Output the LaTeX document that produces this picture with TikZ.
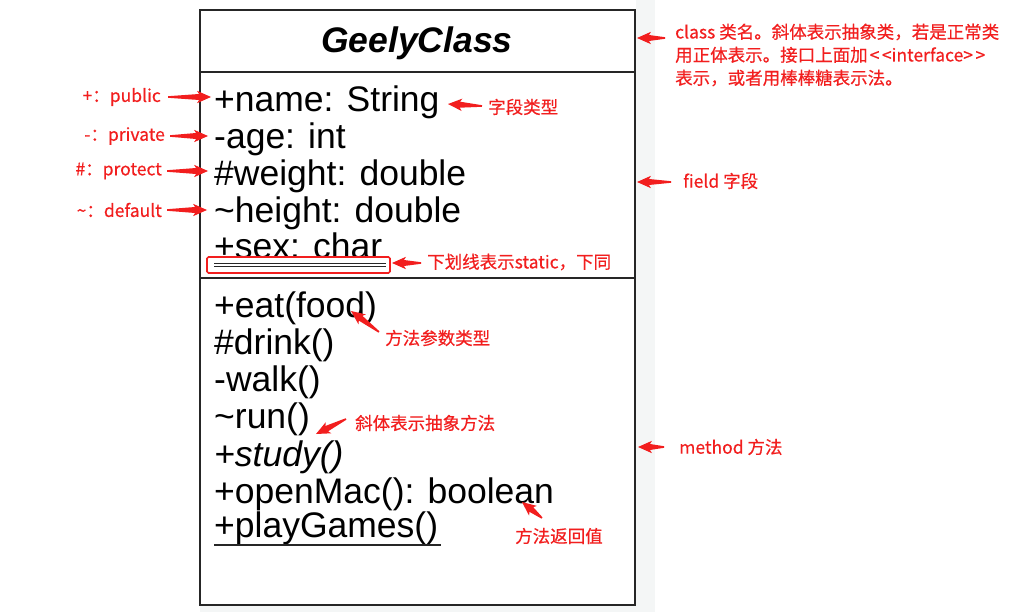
\documentclass[tikz,border=0pt]{standalone}
\usepackage{fontspec}
\setmainfont{Liberation Sans}
\newfontfamily\cjk[FakeBold=0.4]{Noto Sans CJK SC}
\usetikzlibrary{calc}
\definecolor{anno}{RGB}{242,30,30}
\definecolor{strip}{RGB}{244,246,246}
\tikzset{
  member/.style={anchor=base west, inner sep=0pt, font=\fontsize{35.5}{37}\selectfont},
  note/.style={text=anno, inner sep=0pt, font=\cjk\fontsize{17.5}{23}\selectfont},
  umlline/.style={draw=black!85, line width=2pt}
}
% tapered red pointer from #1 (tail) to #2 (tip)
\newcommand\annoarrow[2]{%
  \coordinate (#1H) at ($(#2)!12pt!(#1)$);
  \fill[anno] ($(#1)!0.8pt!90:(#2)$) -- ($(#1H)!3pt!90:(#2)$) -- ($($(#2)!14pt!(#1)$)!6.2pt!90:(#2)$)
    -- (#2) -- ($($(#2)!14pt!(#1)$)!6.2pt!-90:(#2)$) -- ($(#1H)!3pt!-90:(#2)$)
    -- ($(#1)!0.8pt!-90:(#2)$) -- cycle;}
\begin{document}
\begin{tikzpicture}[x=1pt,y=-1pt]
\useasboundingbox (0,0) rectangle (1019,612);
\fill[white] (0,0) rectangle (1019,612);
\fill[strip] (636,0) rectangle (655,612);
\fill[strip] (200,606) rectangle (655,612);

% class box
\node[umlline, minimum width=435pt, minimum height=595pt, inner sep=0pt] (cls) at (417.5,307.5) {};
\coordinate (sepAL) at (200,72);  \coordinate (sepAR) at (635,72);
\coordinate (sepBL) at (200,278); \coordinate (sepBR) at (635,278);
\draw[umlline] (sepAL) -- (sepAR);
\draw[umlline] (sepBL) -- (sepBR);

\node[font=\bfseries\itshape\fontsize{35.5}{37}\selectfont, inner sep=0pt] (title) at (417,43) {GeelyClass};

% fields
\node[member] (f1) at (214,112) {+name: String};
\node[member] (f2) at (214,149) {-age: int};
\node[member] (f3) at (214,186) {\#weight: double};
\node[member] (f4) at (214,223) {\textasciitilde height: double};
\node[member] (f5) at (214,258.5) {+sex: char};
\fill[white] (204,255.5) rectangle (396,275);
\coordinate (ulA) at (214,263.6); \coordinate (ulB) at (386,263.6);
\coordinate (ulC) at (214,266.6); \coordinate (ulD) at (386,266.6);
\draw[black!85, line width=1.4pt] (ulA) -- (ulB);
\draw[black!85, line width=1.4pt] (ulC) -- (ulD);
\node[draw=anno, line width=1.6pt, rounded corners=1.5pt, minimum width=183pt, minimum height=16pt, inner sep=0pt] (static) at (298.5,265) {};

% methods
\node[member] (m1) at (214,317) {+eat(food)};
\node[member] (m2) at (214,354) {\#drink()};
\node[member] (m3) at (214,391) {-walk()};
\node[member] (m4) at (214,428) {\textasciitilde run()};
\node[member, font=\itshape\fontsize{35.5}{37}\selectfont] (m5) at (214,466) {+study()};
\node[member] (m6) at (214,503) {+openMac(): boolean};
\node[member] (m7) at (214,537) {+playGames()};
\coordinate (pgA) at ([yshift=-8pt]m7.base west);
\coordinate (pgB) at (441,545);
\draw[black!85, line width=2pt] (pgA) -- (pgB);

% left annotations
\node[note, anchor=east] (pub) at (161,97) {+：public};
\node[note, anchor=east] (pri) at (165,136) {-：private};
\node[note, anchor=east] (pro) at (162,171) {\#：protect};
\node[note, anchor=east] (def) at (162,210) {\textasciitilde：default};
\coordinate (pubS) at (168,97);  \coordinate (pubT) at (211,97);
\coordinate (priS) at (170,136); \coordinate (priT) at (208,136);
\coordinate (proS) at (167,171); \coordinate (proT) at (208,171);
\coordinate (defS) at (167,210); \coordinate (defT) at (207,210);
\annoarrow{pubS}{pubT}
\annoarrow{priS}{priT}
\annoarrow{proS}{proT}
\annoarrow{defS}{defT}

% right annotations
\node[note, anchor=north west, align=left] (clsnote) at (675,23.5) {class 类名。斜体表示抽象类，若是正常类\\用正体表示。接口上面加{\kern2pt}<{\kern2.5pt}<interface>{\kern2.5pt}>\\表示，或者用棒棒糖表示法。};
\coordinate (clsS) at (665,38); \coordinate (clsT) at (637,38);
\annoarrow{clsS}{clsT}

\node[note, anchor=west] (ftype) at (488,107) {字段类型};
\coordinate (ftypeS) at (482,106); \coordinate (ftypeT) at (448,104);
\annoarrow{ftypeS}{ftypeT}

\node[note, anchor=west] (stnote) at (427,262) {下划线表示static，下同};
\coordinate (stS) at (421,263); \coordinate (stT) at (392,263);
\annoarrow{stS}{stT}

\node[note, anchor=west] (ptype) at (385,338) {方法参数类型};
\coordinate (ptS) at (379,332); \coordinate (ptT) at (351,311);
\annoarrow{ptS}{ptT}

\node[note, anchor=west] (abs) at (355,423) {斜体表示抽象方法};
\coordinate (absS) at (346,419); \coordinate (absT) at (316,434);
\annoarrow{absS}{absT}

\node[note, anchor=west] (field) at (683,181) {field 字段};
\coordinate (fieldS) at (671,182); \coordinate (fieldT) at (637,182);
\annoarrow{fieldS}{fieldT}

\node[note, anchor=west] (method) at (679,447) {method 方法};
\coordinate (methS) at (664,447); \coordinate (methT) at (638,447);
\annoarrow{methS}{methT}

\node[note, anchor=west] (ret) at (515,536) {方法返回值};
\coordinate (retS) at (542,518); \coordinate (retT) at (522,502);
\annoarrow{retS}{retT}
\end{tikzpicture}
\end{document}
